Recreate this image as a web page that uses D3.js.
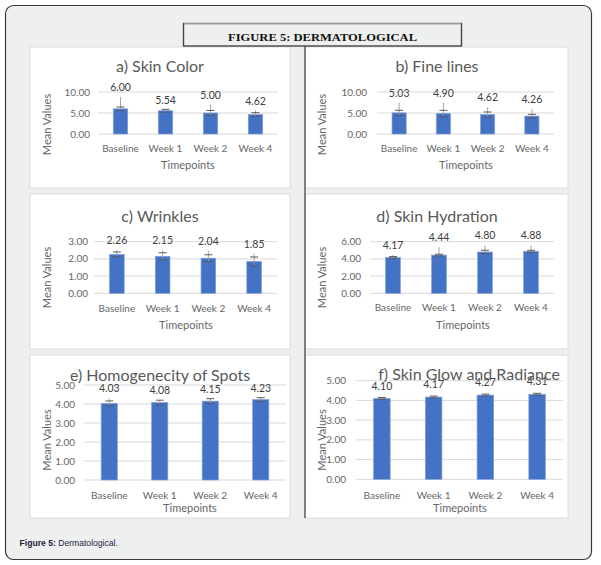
<!DOCTYPE html>
<html>
<head>
<meta charset="utf-8">
<script src="https://cdn.jsdelivr.net/npm/d3@7"></script>
<style>
  body { margin: 0; background: #fff; }
  svg text { font-family: Lato, "Open Sans", sans-serif; }
</style>
</head>
<body>
<svg id="chart" width="601" height="565"></svg>
<script>
// values
const timepoints = ["Baseline", "Week 1", "Week 2", "Week 4"];
const chartTitles = ["a) Skin Color", "b) Fine lines", "c) Wrinkles", "d) Skin Hydration",
  "e) Homogenecity of Spots", "f) Skin Glow and Radiance"];

const skinColor = [6.00, 5.54, 5.00, 4.62];
const fineLines = [5.03, 4.90, 4.62, 4.26];
const wrinkles = [2.26, 2.15, 2.04, 1.85];
const hydration = [4.17, 4.44, 4.80, 4.88];
const spots = [4.03, 4.08, 4.15, 4.23];
const glow = [4.10, 4.17, 4.27, 4.31];

// error bar: cap offset (±) and how far the upper whisker runs above the mean
const skinColorErr = [0.43, 0.33, 0.60, 0.45];
const skinColorUp = [2.80, 0.33, 2.00, 1.00];
const fineLinesErr = [0.61, 0.74, 0.62, 0.43];
const fineLinesUp = [2.42, 2.55, 1.78, 1.64];
const wrinklesErr = [0.14, 0.21, 0.20, 0.26];
const wrinklesUp = [0.24, 0.35, 0.42, 0.45];
const hydrationErr = [0.10, 0.10, 0.20, 0.12];
const hydrationUp = [0.30, 0.94, 0.78, 0.70];
const spotsErr = [0.13, 0.12, 0.13, 0.10];
const spotsUp = [0.27, 0.12, 0.13, 0.10];
const glowErr = [0.05, 0.05, 0.05, 0.05];
const glowUp = [0.05, 0.05, 0.05, 0.05];

const ticks10 = [0, 5, 10];
const ticks3 = [0, 1, 2, 3];
const ticks6 = [0, 2, 4, 6];
const ticks5 = [0, 1, 2, 3, 4, 5];

const figureTitle = "FIGURE 5: DERMATOLOGICAL";
const xTitle = "Timepoints";
const yTitle = "Mean Values";

// layout of the six small charts
const charts = [
  { title: chartTitles[0], values: skinColor, err: skinColorErr, up: skinColorUp, ticks: ticks10,
    box: [30, 47, 290, 188], px: [98, 278], py: [134, 92], titleX: 160, titleY: 72, tickX: 90, xLabY: 151.5,
    xt: [188, 169], yt: [47, 124.5], gap: 9.5 },
  { title: chartTitles[1], values: fineLines, err: fineLinesErr, up: fineLinesUp, ticks: ticks10,
    box: [305, 47, 568, 188], px: [377, 554], py: [134, 92], titleX: 437, titleY: 72, tickX: 367, xLabY: 151.5,
    xt: [466, 169], yt: [322, 124.5], gap: 9.5 },
  { title: chartTitles[2], values: wrinkles, err: wrinklesErr, up: wrinklesUp, ticks: ticks3,
    box: [30, 194, 290, 349], px: [94, 277], py: [293.3, 241.7], titleX: 160, titleY: 222, tickX: 88, xLabY: 311.5,
    xt: [186, 328.5], yt: [47, 277.5], gap: 9.5 },
  { title: chartTitles[3], values: hydration, err: hydrationErr, up: hydrationUp, ticks: ticks6,
    box: [305, 194, 568, 349], px: [370, 554], py: [293.3, 241.7], titleX: 437, titleY: 222, tickX: 361, xLabY: 311,
    xt: [463, 328.5], yt: [322, 277.5], gap: 9.5 },
  { title: chartTitles[4], values: spots, err: spotsErr, up: spotsUp, ticks: ticks5,
    box: [30, 355, 290, 518], px: [84, 286], py: [480, 385], titleX: 160, titleY: 381, tickX: 75, xLabY: 498.5,
    xt: [190, 511.5], yt: [47, 440], gap: 9.5 },
  { title: chartTitles[5], values: glow, err: glowErr, up: glowUp, ticks: ticks5,
    box: [305, 355, 568, 518], px: [356, 563], py: [479.3, 380.7], titleX: 469, titleY: 380, tickX: 346, xLabY: 498.5,
    xt: [460, 511.5], yt: [322, 440], gap: 11.5 },
];

const svg = d3.select("#chart");

// outer frame
svg.append("rect")
  .attr("x", 5.5).attr("y", 5.5).attr("width", 586).attr("height", 554).attr("rx", 8)
  .attr("fill", "#eef0ef").attr("stroke", "#3a3a3a").attr("stroke-width", 1.2);

// panels
charts.forEach(c => {
  const [x0, y0, x1, y1] = c.box;
  svg.append("rect")
    .attr("x", x0).attr("y", y0).attr("width", x1 - x0).attr("height", y1 - y0)
    .attr("fill", "#fff").attr("stroke", "#d4d4d4").attr("stroke-width", 0.8);
});

// dark divider between the columns
svg.append("line")
  .attr("x1", 305).attr("x2", 305).attr("y1", 46).attr("y2", 518)
  .attr("stroke", "#3a3a3a").attr("stroke-width", 1.2);

// figure title box
svg.append("rect")
  .attr("x", 183.5).attr("y", 23.5).attr("width", 278).attr("height", 22.5)
  .attr("fill", "#eef0ef").attr("stroke", "#444").attr("stroke-width", 1.4);
svg.append("line")
  .attr("x1", 184).attr("x2", 461).attr("y1", 23.5).attr("y2", 23.5)
  .attr("stroke", "#9a9a9a").attr("stroke-width", 1.2);
svg.append("text")
  .attr("x", 322.5).attr("y", 40.5)
  .attr("text-anchor", "middle")
  .attr("textLength", 189).attr("lengthAdjust", "spacingAndGlyphs")
  .style("font-family", "'Liberation Serif', 'DejaVu Serif', serif")
  .style("font-weight", "bold").style("font-size", "11px").attr("fill", "#111")
  .text(figureTitle);

charts.forEach(c => {
  const g = svg.append("g");
  const x = d3.scaleBand().domain(timepoints).range(c.px).paddingInner(0.68).paddingOuter(0.34);
  const y = d3.scaleLinear().domain([0, d3.max(c.ticks)]).range(c.py);
  const rows = timepoints.map((t, i) => ({ t, v: c.values[i], e: c.err[i], u: c.up[i] }));

  // gridlines
  g.selectAll(".grid").data(c.ticks).join("line")
    .attr("x1", c.px[0]).attr("x2", c.px[1])
    .attr("y1", d => y(d)).attr("y2", d => y(d))
    .attr("stroke", "#d9d9d9").attr("stroke-width", 1);

  // y tick labels
  g.selectAll(".tick").data(c.ticks).join("text")
    .attr("x", c.tickX).attr("y", d => y(d)).attr("dy", "0.35em")
    .attr("text-anchor", "end").attr("fill", "#666").style("font-size", "10px")
    .text(d => d3.format(".2f")(d));

  // bars
  g.selectAll(".bar").data(rows).join("rect")
    .attr("x", d => x(d.t)).attr("width", x.bandwidth())
    .attr("y", d => y(d.v)).attr("height", d => y(0) - y(d.v))
    .attr("fill", "#4472c4").attr("stroke", "#7f9fdc").attr("stroke-width", 0.7);

  // error bars
  const cx = d => x(d.t) + x.bandwidth() / 2;
  g.selectAll(".stem").data(rows).join("line")
    .attr("x1", cx).attr("x2", cx)
    .attr("y1", d => y(d.v + d.u)).attr("y2", d => y(d.v - d.e))
    .attr("stroke", "#9a9a9a").attr("stroke-width", 0.9);
  g.selectAll(".capHi").data(rows).join("line")
    .attr("x1", d => cx(d) - 4).attr("x2", d => cx(d) + 4)
    .attr("y1", d => y(d.v + d.e)).attr("y2", d => y(d.v + d.e))
    .attr("stroke", "#595959").attr("stroke-width", 1);
  g.selectAll(".capLo").data(rows).join("line")
    .attr("x1", d => cx(d) - 4).attr("x2", d => cx(d) + 4)
    .attr("y1", d => y(d.v - d.e)).attr("y2", d => y(d.v - d.e))
    .attr("stroke", "#595959").attr("stroke-width", 1);

  // value labels
  g.selectAll(".val").data(rows).join("text")
    .attr("x", cx).attr("y", d => y(d.v + d.u) - c.gap).attr("dy", "0.35em")
    .attr("text-anchor", "middle").attr("fill", "#404040").style("font-size", "10.5px")
    .text(d => d3.format(".2f")(d.v));

  // category labels
  g.selectAll(".cat").data(timepoints).join("text")
    .attr("x", d => x(d) + x.bandwidth() / 2).attr("y", c.xLabY)
    .attr("text-anchor", "middle").attr("fill", "#666").style("font-size", "10px")
    .text(d => d);

  // chart title
  g.append("text")
    .attr("x", c.titleX).attr("y", c.titleY)
    .attr("text-anchor", "middle").attr("fill", "#595959").style("font-size", "16px")
    .text(c.title);

  // axis titles
  g.append("text")
    .attr("x", c.xt[0]).attr("y", c.xt[1])
    .attr("text-anchor", "middle").attr("fill", "#666").style("font-size", "11px")
    .text(xTitle);
  g.append("text")
    .attr("transform", `translate(${c.yt[0]},${c.yt[1]}) rotate(-90)`)
    .attr("dy", "0.35em")
    .attr("text-anchor", "middle").attr("fill", "#666").style("font-size", "11px")
    .text(yTitle);
});

// caption
const cap = svg.append("text")
  .attr("x", 19.5).attr("y", 545.5)
  .style("font-family", "'Liberation Sans', Arial, sans-serif").style("font-size", "8.6px")
  .attr("fill", "#1f1f3d");
cap.append("tspan").style("font-weight", "bold").text("Figure 5: ");
cap.append("tspan").text("Dermatological.");
</script>
</body>
</html>
